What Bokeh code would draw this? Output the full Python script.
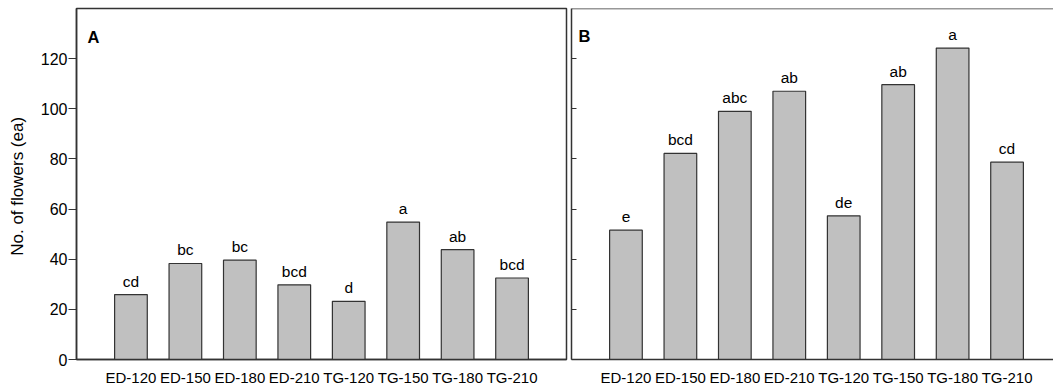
from bokeh.plotting import figure
from bokeh.layouts import row
from bokeh.models import ColumnDataSource, FixedTicker, Range1d, Label, Span, LabelSet
from bokeh.core.properties import value
from bokeh.embed import file_html
from bokeh.resources import INLINE

categories = ["ED-120", "ED-150", "ED-180", "ED-210", "TG-120", "TG-150", "TG-180", "TG-210"]
flowers_A = [25.9, 38.3, 39.6, 29.8, 23.2, 54.8, 43.8, 32.5]
letters_A = ["cd", "bc", "bc", "bcd", "d", "a", "ab", "bcd"]
flowers_B = [51.6, 82.2, 99.0, 107.0, 57.3, 109.6, 124.2, 78.7]
letters_B = ["e", "bcd", "abc", "ab", "de", "ab", "a", "cd"]
y_ticks = [0, 20, 40, 60, 80, 100, 120]

FONT = "Liberation Sans"
LINE = "#333333"
positions = list(range(1, len(categories) + 1))
overrides = {p: c for p, c in zip(positions, categories)}
UNIT = 490 / 9  # px per category slot (panel A frame is 490 px wide)


def make_panel(values, letters, tag, width, x_end, border_left, border_right, first):
    p = figure(width=width, height=388, output_backend="svg", toolbar_location=None,
               x_range=Range1d(0, x_end), y_range=Range1d(0, 140),
               min_border_left=border_left, min_border_right=border_right,
               min_border_top=8, min_border_bottom=27)
    src = ColumnDataSource(dict(x=positions, top=values, lab=letters))
    p.vbar(x="x", top="top", bottom=0, width=0.6, source=src,
           fill_color="#c0c0c0", line_color=LINE, line_width=1.2)
    p.add_layout(LabelSet(x="x", y="top", text="lab", source=src, text_align="center",
                          text_baseline="alphabetic", y_offset=8, text_font_size="15.5px",
                          text_font=value(FONT), text_color="black"))
    p.add_layout(Label(x=0.2 if first else 0.13, y=128.5 if first else 129.0, text=tag,
                       text_font=FONT, text_font_size="16.5px", text_font_style="bold",
                       text_baseline="alphabetic", text_color="black"))
    p.xgrid.visible = False
    p.ygrid.visible = False

    xa = p.xaxis[0]
    xa.ticker = FixedTicker(ticks=positions)
    xa.major_label_overrides = overrides
    xa.major_tick_out = 0
    xa.major_tick_in = 0
    xa.minor_tick_out = 0
    xa.minor_tick_in = 0
    xa.major_label_standoff = 9
    xa.major_label_text_font = FONT
    xa.major_label_text_font_size = "15px"
    xa.major_label_text_color = "black"
    xa.axis_line_color = LINE
    xa.axis_line_width = 1.5

    ya = p.yaxis[0]
    ya.ticker = FixedTicker(ticks=y_ticks)
    ya.minor_tick_out = 0
    ya.minor_tick_in = 0
    ya.axis_line_color = LINE
    ya.axis_line_width = 1.5
    ya.major_tick_line_color = LINE
    ya.major_tick_line_width = 1
    if first:
        ya.major_tick_out = 8
        ya.major_tick_in = 0
        ya.major_label_standoff = 1
        ya.major_label_text_font = FONT
        ya.major_label_text_font_size = "16px"
        ya.major_label_text_color = "black"
        ya.axis_label = "No. of  flowers (ea)"
        ya.axis_label_text_font = FONT
        ya.axis_label_text_font_size = "17px"
        ya.axis_label_text_font_style = "normal"
        ya.axis_label_text_color = "black"
        ya.axis_label_standoff = 11
        p.outline_line_color = LINE
        p.outline_line_width = 1.5
        p.outline_line_alpha = 1
    else:
        ya.major_tick_out = 0
        ya.major_tick_in = 5
        ya.major_label_standoff = 0
        ya.major_label_overrides = {t: "" for t in y_ticks}
        p.outline_line_color = None
        p.add_layout(Span(location=140, dimension="width", line_color=LINE, line_width=1.5))
    return p


pA = make_panel(flowers_A, letters_A, "A", 568, 9, 76, 2, True)
pB = make_panel(flowers_B, letters_B, "B", 485, (1053 - 571) / UNIT, 3, 0, False)

layout = row(pA, pB)
open("out.html", "w").write(file_html(layout, INLINE))
